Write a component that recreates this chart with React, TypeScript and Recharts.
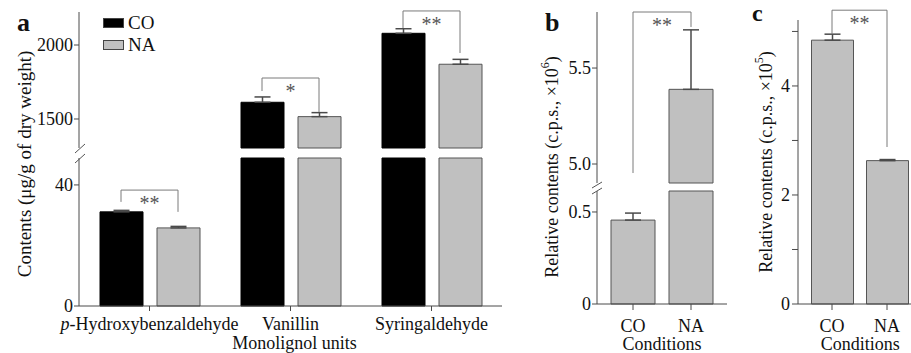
import React from 'react';
import { BarChart, Bar, XAxis, YAxis, ErrorBar, ReferenceLine, ReferenceDot, Legend } from 'recharts';

// Lignin-derived aldehydes (a) and two relative contents (b, c), CO vs NA

const SERIF = '"Liberation Serif", "Times New Roman", serif';
const AXIS = '#4a4a4a';
const INK = '#111';
const BRACKET = '#7a7a7a';
const GREY = '#c0c0c0';

// ---- panel a (µg/g of dry weight)
const compounds = ['p-Hydroxybenzaldehyde', 'Vanillin', 'Syringaldehyde'];
const coContents = [31.1, 1613, 2079];
const coSE = [0.5, 36, 31];
const naContents = [25.8, 1516, 1870];
const naSE = [0.5, 27, 33];
const aLowTicks = [0, 40];
const aHighTicks = [1500, 2000];
const aLowDomain = [0, 48.9];
const aHighDomain = [1304, 2223];
const aMarks = ['**', '*', '**'];
const aBracketTop = [38.3, 1777, 2230];
const aBracketLeft = [34.4, 1689, 2115];
const aBracketRight = [31.1, 1547, 1946];

// ---- panel b (c.p.s., x10^6)
const conditions = ['CO', 'NA'];
const bContents = [0.456, 5.389];
const bSE = [0.038, 0.31];
const bLowTicks = [0, 0.5];
const bHighTicks = [5.0, 5.5];
const bLowDomain = [0, 0.614];
const bHighDomain = [4.901, 5.792];
const bBracket = { top: 5.792, left: 4.953, right: 5.714, mark: '**' };

// ---- panel c (c.p.s., x10^5)
const cContents = [4.84, 2.63];
const cSE = [0.11, 0.02];
const cTicks = [0, 1, 2, 3, 4, 5];
const cDomain = [0, 5.21];
const cBracket = { top: 5.39, left: 4.95, right: 2.88, mark: '**' };

// layout
const A_BAR = 43;
const A_GAP = 14;
const A_SHIFT = (A_BAR + A_GAP) / 2; // px from group centre to each bar centre
const B_BAND = 58;
const C_BAND = 55;

const inRange = (v: number, d: number[]) => v >= d[0] && v <= d[1];

const aLowRows = compounds.map((name, i) => ({
  name,
  co: Math.min(coContents[i], aLowDomain[1]),
  na: Math.min(naContents[i], aLowDomain[1]),
  coErr: inRange(coContents[i], aLowDomain) ? [0, coSE[i]] : undefined,
  naErr: inRange(naContents[i], aLowDomain) ? [0, naSE[i]] : undefined,
}));
const aHighRows = compounds.map((name, i) => ({
  name,
  co: coContents[i] > aHighDomain[0] ? coContents[i] : null,
  na: naContents[i] > aHighDomain[0] ? naContents[i] : null,
  coErr: coContents[i] > aHighDomain[0] ? [0, coSE[i]] : undefined,
  naErr: naContents[i] > aHighDomain[0] ? [0, naSE[i]] : undefined,
}));
const bLowRows = conditions.map((name, i) => ({
  name,
  v: Math.min(bContents[i], bLowDomain[1]),
  err: inRange(bContents[i], bLowDomain) ? [0, bSE[i]] : undefined,
}));
const bHighRows = conditions.map((name, i) => ({
  name,
  v: bContents[i] > bHighDomain[0] ? bContents[i] : null,
  err: bContents[i] > bHighDomain[0] ? [0, bSE[i]] : undefined,
}));
const cRows = conditions.map((name, i) => ({ name, v: cContents[i], err: [0, cSE[i]] }));

const tickFont = { fontFamily: SERIF, fontSize: 18, fill: INK };

const starLabel = (mark: string, dx: number) => (props: any) => {
  const vb = props.viewBox;
  return (
    <text x={vb.x + vb.width / 2 + dx} y={vb.y + 20} textAnchor="middle" fontFamily={SERIF} fontSize={20} fill="#555">
      {mark}
    </text>
  );
};

// line shape shifted sideways by a pixel offset (bars sit off the category centre)
const shiftedLine = (dx1: number, dx2: number) => (p: any) => (
  <line x1={p.x1 + dx1} y1={p.y1} x2={p.x2 + dx2} y2={p.y2} stroke={BRACKET} strokeWidth={1} />
);

function bracket(key: string, xa: string, xb: string, dxa: number, dxb: number,
  top: number, left: number, right: number, mark: string, markDx: number) {
  const common = { ifOverflow: 'visible' as const };
  return [
    <ReferenceLine key={key + 'l'} {...common} segment={[{ x: xa, y: left }, { x: xa, y: top }]} shape={shiftedLine(dxa, dxa)} />,
    <ReferenceLine key={key + 't'} {...common} segment={[{ x: xa, y: top }, { x: xb, y: top }]} shape={shiftedLine(dxa, dxb)} />,
    <ReferenceLine key={key + 'r'} {...common} segment={[{ x: xb, y: top }, { x: xb, y: right }]} shape={shiftedLine(dxb, dxb)} />,
    <ReferenceDot key={key + 'm'} x={xa} y={top} r={0} fill="none" stroke="none"
      ifOverflow="visible" label={starLabel(mark, markDx)} />,
  ];
}

const aBracket = (i: number) =>
  bracket('a' + i, compounds[i], compounds[i], -A_SHIFT, A_SHIFT,
    aBracketTop[i], aBracketLeft[i], aBracketRight[i], aMarks[i], 0);

function CompoundTick(props: any) {
  const { x, y, payload } = props;
  const name: string = payload.value;
  return (
    <text x={x} y={y} dy={17} textAnchor="middle" {...tickFont}>
      {name.startsWith('p-') ? (<><tspan fontStyle="italic">p</tspan>{name.slice(1)}</>) : name}
    </text>
  );
}

const bottomTitle = (text: string, dy: number, dx = 0) => (props: any) => {
  const vb = props.viewBox;
  return (
    <text x={vb.x + vb.width / 2 + dx} y={vb.y + dy} textAnchor="middle" {...tickFont}>{text}</text>
  );
};

const renderLegend = (props: any) => (
  <div style={{ fontFamily: SERIF, fontSize: 19, color: INK }}>
    {(props.payload || []).map((p: any) => (
      <div key={p.value} style={{ display: 'flex', alignItems: 'center', height: 22 }}>
        <span style={{ width: 19, height: 8, background: p.color, border: '1px solid #444', marginRight: 4 }} />
        {p.value}
      </div>
    ))}
  </div>
);

const fmtB = (v: number) => (v === 0 ? '0' : v.toFixed(1));
const fmtC = (v: number) => (v % 2 === 0 ? String(v) : '');

function Overlay() {
  const txt = { fontFamily: SERIF, fill: INK };
  return (
    <svg width={911} height={353} style={{ position: 'absolute', left: 0, top: 0 }}>
      <text x={17} y={31} fontSize={26} fontWeight="bold" {...txt}>a</text>
      <text x={545} y={31} fontSize={26} fontWeight="bold" {...txt}>b</text>
      <text x={752} y={21} fontSize={24} fontWeight="bold" {...txt}>c</text>
      <text transform="translate(24,164) rotate(-90)" textAnchor="middle" dominantBaseline="central" fontSize={19} {...txt}>
        Contents (μg/g of dry weight)
      </text>
      <text transform="translate(552,167) rotate(-90)" textAnchor="middle" dominantBaseline="central" fontSize={18} {...txt}>
        Relative contents (c.p.s., ×10<tspan fontSize={12} dy={-7}>6</tspan><tspan dy={7}>)</tspan>
      </text>
      <g stroke="#555" strokeWidth={1}>
        <line x1={75} y1={153} x2={85} y2={144} />
        <line x1={75} y1={163} x2={85} y2={154} />
        <line x1={592} y1={188} x2={602} y2={182} />
        <line x1={592} y1={194} x2={602} y2={188} />
      </g>
    </svg>
  );
}

export default function App() {
  return (
    <div style={{ position: 'absolute', left: 0, top: 0, width: 911, height: 353, overflow: 'hidden', background: '#fff' }}>
      {/* panel a, upper segment */}
      <div style={{ position: 'absolute', left: 0, top: 0 }}>
        <BarChart width={520} height={160} data={aHighRows} margin={{ top: 12, right: 18, bottom: 12, left: 0 }}
          barSize={A_BAR} barGap={A_GAP}>
          <XAxis dataKey="name" hide />
          <YAxis type="number" domain={aHighDomain} ticks={aHighTicks} width={79} tickSize={5} tickMargin={1}
            stroke={AXIS} tick={tickFont} interval={0} />
          <Bar dataKey="co" name="CO" fill="#000" stroke="#000" isAnimationActive={false}>
            <ErrorBar dataKey="coErr" width={8} stroke={AXIS} direction="y" />
          </Bar>
          <Bar dataKey="na" name="NA" fill={GREY} stroke="#555" isAnimationActive={false}>
            <ErrorBar dataKey="naErr" width={8} stroke={AXIS} direction="y" />
          </Bar>
          {aBracket(1)}
          {aBracket(2)}
          <Legend layout="vertical" align="center" verticalAlign="middle" content={renderLegend}
            wrapperStyle={{ left: 103, top: 12, width: 80 }} />
        </BarChart>
      </div>

      {/* panel a, lower segment */}
      <div style={{ position: 'absolute', left: 0, top: 150 }}>
        <BarChart width={520} height={203} data={aLowRows} margin={{ top: 8, right: 18, bottom: 0, left: 0 }}
          barSize={A_BAR} barGap={A_GAP}>
          <XAxis dataKey="name" height={47} tickSize={5} tickMargin={2} stroke={AXIS} interval={0}
            tick={<CompoundTick />} label={bottomTitle('Monolignol units', 43, 4)} />
          <YAxis type="number" domain={aLowDomain} ticks={aLowTicks} width={79} tickSize={5} tickMargin={1}
            stroke={AXIS} tick={tickFont} interval={0} />
          <Bar dataKey="co" name="CO" fill="#000" stroke="#000" isAnimationActive={false}>
            <ErrorBar dataKey="coErr" width={8} stroke={AXIS} direction="y" />
          </Bar>
          <Bar dataKey="na" name="NA" fill={GREY} stroke="#555" isAnimationActive={false}>
            <ErrorBar dataKey="naErr" width={8} stroke={AXIS} direction="y" />
          </Bar>
          {aBracket(0)}
        </BarChart>
      </div>

      {/* panel b, upper segment */}
      <div style={{ position: 'absolute', left: 540, top: 0 }}>
        <BarChart width={200} height={190} data={bHighRows} margin={{ top: 12, right: 13, bottom: 7, left: 0 }} barSize={44}>
          <XAxis dataKey="name" hide padding={{ left: 7, right: 7 }} />
          <YAxis type="number" domain={bHighDomain} ticks={bHighTicks} width={57} tickSize={5} tickMargin={1}
            stroke={AXIS} tick={tickFont} tickFormatter={fmtB} interval={0} />
          <Bar dataKey="v" fill={GREY} stroke="#555" isAnimationActive={false}>
            <ErrorBar dataKey="err" width={8} stroke={AXIS} direction="y" />
          </Bar>
          {bracket('b', 'CO', 'NA', 0, 0, bBracket.top, bBracket.left, bBracket.right, bBracket.mark, B_BAND / 2)}
        </BarChart>
      </div>

      {/* panel b, lower segment */}
      <div style={{ position: 'absolute', left: 540, top: 185 }}>
        <BarChart width={200} height={168} data={bLowRows} margin={{ top: 6, right: 13, bottom: 0, left: 0 }} barSize={44}>
          <XAxis dataKey="name" height={49} padding={{ left: 7, right: 7 }} tickSize={6} tickMargin={9}
            stroke={AXIS} tick={tickFont} interval={0} label={bottomTitle('Conditions', 46)} />
          <YAxis type="number" domain={bLowDomain} ticks={bLowTicks} width={57} tickSize={5} tickMargin={1}
            stroke={AXIS} tick={tickFont} tickFormatter={fmtB} interval={0} />
          <Bar dataKey="v" fill={GREY} stroke="#555" isAnimationActive={false}>
            <ErrorBar dataKey="err" width={8} stroke={AXIS} direction="y" />
          </Bar>
        </BarChart>
      </div>

      {/* panel c */}
      <div style={{ position: 'absolute', left: 740, top: 0 }}>
        <BarChart width={180} height={353} data={cRows} margin={{ top: 20, right: 5.5, bottom: 0, left: 0 }} barSize={42}>
          <XAxis dataKey="name" height={49} padding={{ left: 6.5, right: 0 }} tickSize={6} tickMargin={9}
            stroke={AXIS} tick={tickFont} interval={0} label={bottomTitle('Conditions', 46, 4)} />
          <YAxis type="number" domain={cDomain} ticks={cTicks} width={58} tickSize={6} tickMargin={2}
            stroke={AXIS} tick={tickFont} tickFormatter={fmtC} interval={0}
            label={(props: any) => {
              const vb = props.viewBox;
              const cx = vb.x + 26;
              const cy = vb.y + vb.height / 2;
              return (
                <text transform={`translate(${cx},${cy}) rotate(-90)`} textAnchor="middle" dominantBaseline="central"
                  fontFamily={SERIF} fontSize={18} fill={INK}>
                  Relative contents (c.p.s., ×10<tspan fontSize={12} dy={-7}>5</tspan><tspan dy={7}>)</tspan>
                </text>
              );
            }} />
          <Bar dataKey="v" fill={GREY} stroke="#555" isAnimationActive={false}>
            <ErrorBar dataKey="err" width={8} stroke={AXIS} direction="y" />
          </Bar>
          {bracket('c', 'CO', 'NA', 0, 0, cBracket.top, cBracket.left, cBracket.right, cBracket.mark, C_BAND / 2)}
        </BarChart>
      </div>

      <Overlay />
    </div>
  );
}
